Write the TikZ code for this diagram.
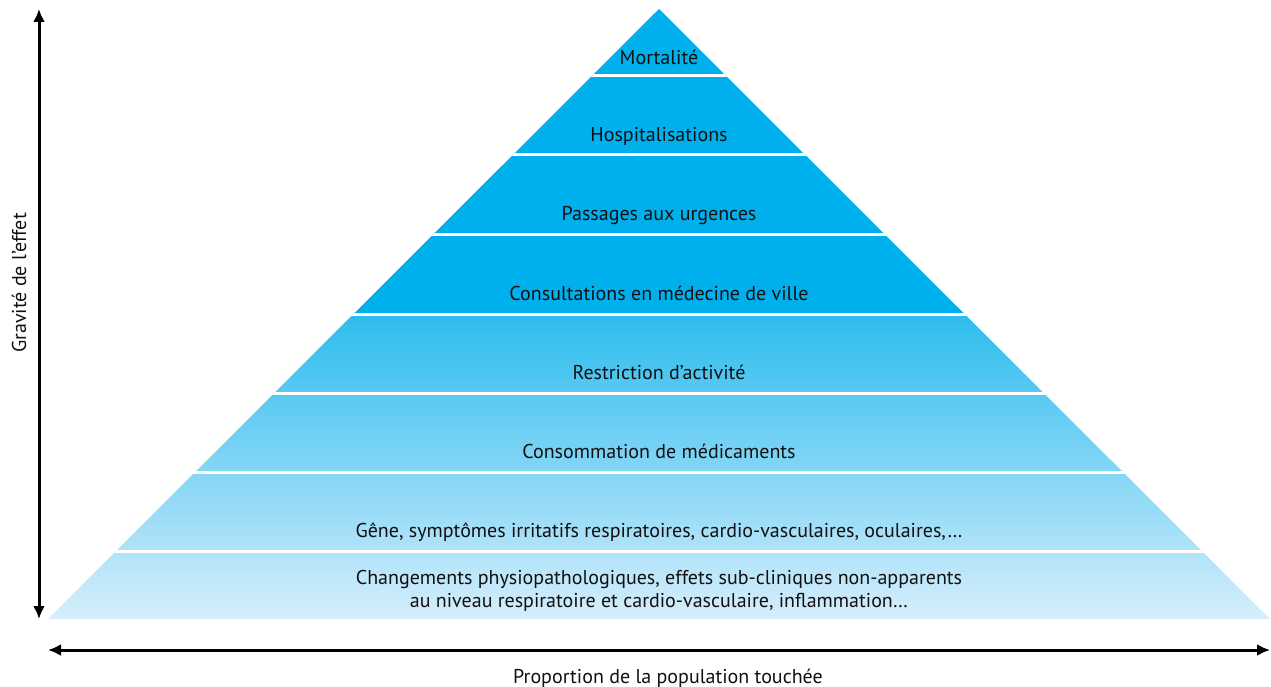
\documentclass[tikz,border=0pt]{standalone}
\usepackage{fontspec}
\setmainfont{PT Sans}
\usetikzlibrary{arrows.meta}
\definecolor{cyanA}{HTML}{00B0EC}
\definecolor{cyanB}{HTML}{2CBCEE}
\definecolor{cyanC}{HTML}{D6EEFC}
\definecolor{txt}{HTML}{111111}
\tikzset{
  lbl/.style={anchor=base, font=\fontsize{20}{24}\selectfont, text=txt, inner sep=0pt},
  axis/.style={line width=3pt, {Latex[length=13pt,width=12pt]}-{Latex[length=13pt,width=12pt]}},
  sep/.style={white, line width=3pt}
}
\begin{document}
\begin{tikzpicture}[x=1pt,y=-1pt]
\useasboundingbox (0,0) rectangle (1271,687);
\coordinate (apex) at (659,9);
\coordinate (bl) at (48,619);
\coordinate (br) at (1270,619);
\begin{scope}
  \clip (apex) -- (bl) -- (br) -- cycle;
  \fill[cyanA] (0,0) rectangle (1271,314);
  \shade[top color=cyanB, bottom color=cyanC] (0,314) rectangle (1271,619);
  \foreach \yy in {76,155,234,314,393,472,551}
    \draw[sep] (0,\yy) -- (1271,\yy);
\end{scope}
\node[lbl] (t1) at (659,65) {Mortalité};
\node[lbl] (t2) at (659,142) {Hospitalisations};
\node[lbl] (t3) at (659,221) {Passages aux urgences};
\node[lbl] (t4) at (659,300) {Consultations en médecine de ville};
\node[lbl] (t5) at (659,379) {Restriction d’activité};
\node[lbl] (t6) at (659,458) {Consommation de médicaments};
\node[lbl] (t7) at (659,537) {Gêne, symptômes irritatifs respiratoires, cardio-vasculaires, oculaires,…};
\node[lbl] (t8) at (659,584) {Changements physiopathologiques, effets sub-cliniques non-apparents};
\node[lbl] (t9) at (659,607) {au niveau respiratoire et cardio-vasculaire, inflammation…};
\coordinate (vtop) at (39,9);
\coordinate (vbot) at (39,619);
\draw[axis] (vbot) -- (vtop);
\coordinate (hl) at (48,650);
\coordinate (hr) at (1270,650);
\draw[axis] (hl) -- (hr);
\node[lbl] (xl) at (668,683) {Proportion de la population touchée};
\node[lbl, anchor=center, rotate=90] (yl) at (19,283) {Gravité de l’effet};
\end{tikzpicture}
\end{document}
